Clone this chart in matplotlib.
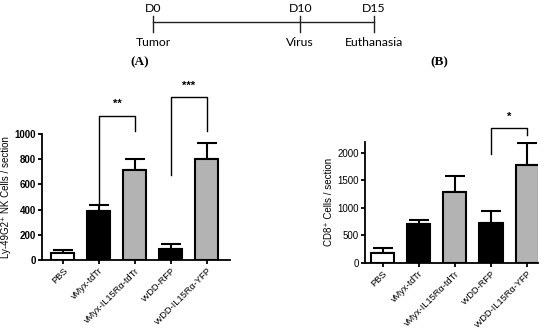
import matplotlib
matplotlib.use('Agg')
import matplotlib.pyplot as plt
import numpy as np

plt.rcParams['font.family'] = ['Liberation Sans', 'DejaVu Sans']

# DADOS

grupos = ['PBS', 'vMyx-tdTr', 'vMyx-IL15Rα-tdTr', 'vvDD-RFP', 'vvDD-IL15Rα-YFP']
cores = ['white', 'black', '#b3b3b3', 'black', '#b3b3b3']

nk_media = [55, 385, 715, 85, 800]
nk_erro = [25, 50, 85, 43, 125]

cd8_media = [170, 700, 1280, 720, 1770]
cd8_erro = [90, 70, 295, 220, 410]

# (i, j, topo, perna_esq, perna_dir, texto, y_texto)
sig_nk = [(1, 2, 1143, 436, 1026, '**', 1240),
          (3, 4, 1296, 675, 1026, '***', 1385)]
sig_cd8 = [(3, 4, 2444, 1976, 2322, '*', 2650)]

dias = [0, 10, 15]
dias_lbl = ['D0', 'D10', 'D15']
eventos = ['Tumor', 'Virus', 'Euthanasia']

# FIGURA

fig = plt.figure(figsize=(5.5, 3.36), dpi=100)

# linha do tempo
axt = fig.add_axes([153/550, 1-50/336, 221/550, 50/336])
axt.set_xlim(0, 15)
axt.set_ylim(50, 0)
axt.axis('off')
axt.plot([dias[0], dias[-1]], [22, 22], color='#222222', lw=1, clip_on=False)
for d, l, e in zip(dias, dias_lbl, eventos):
    axt.plot([d, d], [16, 32], color='#222222', lw=1, clip_on=False)
    axt.text(d, 8.5, l, ha='center', va='center', fontsize=8.8, family='Lato')
    axt.text(d, 42, e, ha='center', va='center', fontsize=8.8, family='Lato')

fig.text(140/550, 1-62/336, '(A)', ha='center', va='center', fontsize=9.5,
         family='Liberation Serif', weight='bold')
fig.text(439/550, 1-62/336, '(B)', ha='center', va='center', fontsize=9.5,
         family='Liberation Serif', weight='bold')


def painel(ax, media, erro, sig, ymax, yticks, ylabel, bold):
    x = np.arange(len(grupos))
    ax.bar(x, media, width=0.64, color=cores, edgecolor='black', linewidth=1.5, zorder=2)
    ax.errorbar(x, media, yerr=[np.zeros(len(erro)), erro], fmt='none',
                ecolor='black', elinewidth=1.5, capsize=7, capthick=1.5, zorder=1)
    ax.set_ylim(0, ymax)
    ax.set_yticks(yticks)
    ax.set_xticks(x)
    ax.set_xticklabels(grupos, rotation=45, ha='right', rotation_mode='anchor', fontsize=6.7)
    for t in ax.get_yticklabels():
        t.set_fontsize(7)
        if bold:
            t.set_fontweight('bold')
    ax.set_ylabel(ylabel, fontsize=7, labelpad=2)
    for s in ['top', 'right']:
        ax.spines[s].set_visible(False)
    for s in ['left', 'bottom']:
        ax.spines[s].set_linewidth(1.3)
    ax.tick_params(width=1.3, length=3, pad=1.5)
    for i, j, topo, pe, pd, txt, yt in sig:
        ax.plot([i, i, j, j], [pe, topo, topo, pd], color='black', lw=1, clip_on=False)
        ax.text((i + j) / 2, yt, txt, ha='center', va='center', fontsize=8,
                weight='bold', clip_on=False)


ax1 = fig.add_axes([42/550, 1-260/336, 188/550, 126/336])
ax1.set_xlim(-0.58, 4.64)
painel(ax1, nk_media, nk_erro, sig_nk, 1000, [0, 200, 400, 600, 800, 1000],
       'Ly-49G2⁺ NK Cells / section', True)

ax2 = fig.add_axes([365/550, 1-262.7/336, 173/550, 121/336])
ax2.set_xlim(-0.49, 4.3)
painel(ax2, cd8_media, cd8_erro, sig_cd8, 2200, [0, 500, 1000, 1500, 2000],
       'CD8⁺ Cells / section', False)

plt.savefig('out.png', dpi=100)
